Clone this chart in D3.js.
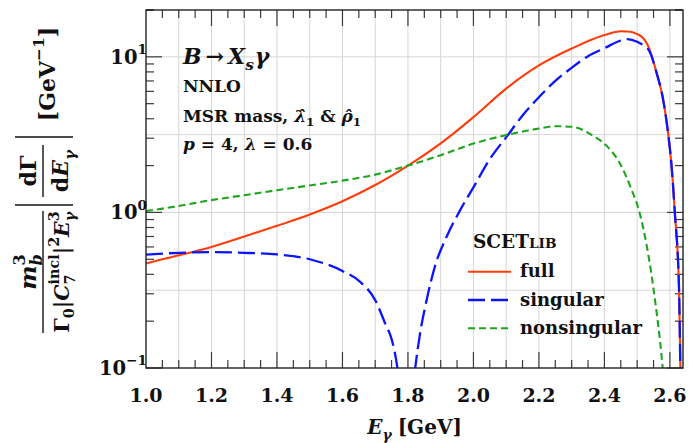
<!DOCTYPE html>
<html><head><meta charset="utf-8">
<script src="https://cdn.jsdelivr.net/npm/d3@7"></script>
<style>body{margin:0;background:#fff}svg{display:block}text{white-space:pre}</style>
</head><body>
<svg id="c" width="689" height="443"></svg>
<script>
// ---------- data ----------
const xDomain = [1.0, 2.64];
const yDomain = [0.1, 20];
const xTickLabels = [1.0, 1.2, 1.4, 1.6, 1.8, 2.0, 2.2, 2.4, 2.6];
const yTickExponents = [-1, 0, 1];
const seriesNames = ["full", "singular", "nonsingular"];

const full = [
  [1.00,0.47],[1.05,0.50],[1.10,0.53],[1.20,0.60],[1.30,0.70],[1.40,0.82],[1.50,0.97],
  [1.60,1.18],[1.70,1.50],[1.80,2.00],[1.90,2.78],[2.00,4.10],[2.10,6.25],[2.20,8.80],
  [2.30,11.3],[2.40,13.8],[2.45,14.6],[2.48,14.5],[2.50,14.0],[2.52,13.1],[2.537,11.3],
  [2.56,7.8],[2.578,5.5],[2.595,3.16],[2.605,2.0],[2.615,1.0],[2.628,0.316],[2.632,0.1],[2.634,0.06]
];
const singular = [
  [1.00,0.535],[1.10,0.55],[1.20,0.555],[1.30,0.55],[1.40,0.537],[1.50,0.50],[1.60,0.42],
  [1.654,0.358],[1.70,0.273],[1.73,0.194],[1.751,0.151],[1.768,0.0995],[1.78,0.06],
  [1.81,0.06],[1.822,0.0995],[1.837,0.167],[1.857,0.273],[1.882,0.447],[1.918,0.697],
  [1.959,1.03],[2.00,1.45],[2.05,2.2],[2.105,3.14],[2.15,4.2],[2.20,5.5],[2.25,7.0],
  [2.30,8.5],[2.35,10.1],[2.405,11.5],[2.44,12.5],[2.47,13.0],[2.50,12.5],[2.52,11.8],
  [2.537,10.9],[2.56,7.8],[2.578,5.5],[2.595,3.16],[2.605,2.0],[2.615,1.0],[2.628,0.316],[2.632,0.1],[2.634,0.06]
];
const nonsingular = [
  [1.00,1.02],[1.10,1.10],[1.20,1.20],[1.30,1.29],[1.40,1.39],[1.50,1.49],[1.60,1.60],
  [1.70,1.75],[1.80,2.00],[1.90,2.33],[2.00,2.77],[2.10,3.14],[2.20,3.46],[2.25,3.58],
  [2.30,3.55],[2.37,3.06],[2.405,2.70],[2.447,2.07],[2.48,1.45],[2.508,0.985],[2.549,0.333],
  [2.578,0.1],[2.59,0.05]
];

// ---------- layout ----------
const M = {left:146, right:683, top:10, bottom:368};
const FONT = "'DejaVu Serif', serif";
const svg = d3.select("#c");

const x = d3.scaleLinear().domain(xDomain).range([M.left, M.right]);
const y = d3.scaleLog().domain(yDomain).range([M.bottom, M.top]);

// math run helper
function run(parent, items, px, py, anchor, base) {
  const g = parent.append("g");
  let cur = 0, stackX = null, stackW = 0;
  items.forEach(it => {
    const sz = base * (it.s || 1);
    const t = g.append("text").text(it.t)
      .attr("font-family", FONT).attr("font-weight", "bold")
      .attr("font-style", it.i ? "italic" : "normal")
      .attr("font-size", sz).attr("y", (it.dy || 0) * base).attr("fill", "#111");
    const w = t.node().getComputedTextLength();
    if (it.stack) { t.attr("x", cur + (it.dx || 0)); stackX = cur; stackW = w; }
    else if (stackX !== null) { t.attr("x", stackX + (it.dx || 0)); cur = stackX + Math.max(w, stackW); stackX = null; }
    else { t.attr("x", cur + (it.dx || 0)); cur += w; }
    cur += (it.after || 0);
  });
  const off = anchor === "middle" ? cur / 2 : anchor === "end" ? cur : 0;
  g.attr("transform", `translate(${px - off},${py})`);
  return g;
}

// gridlines
const vGrid = d3.range(11, 27).map(d => d / 10);
const hGrid = [Math.pow(10, -0.5), 1, Math.pow(10, 0.5), 10];
const grid = svg.append("g").attr("stroke", "#d6d6d6").attr("stroke-width", 1);
grid.selectAll(".v").data(vGrid).join("line")
  .attr("x1", d => x(d)).attr("x2", d => x(d)).attr("y1", M.top).attr("y2", M.bottom);
grid.selectAll(".h").data(hGrid).join("line")
  .attr("x1", M.left).attr("x2", M.right).attr("y1", d => y(d)).attr("y2", d => y(d));

// ticks (all four sides, inward)
const xMinor = d3.range(21, 53).map(d => d * 0.05).filter(d => d < xDomain[1]);
const tk = svg.append("g").attr("stroke", "#3a3a3a").attr("stroke-width", 1.2);
xMinor.forEach(v => {
  const major = xTickLabels.some(t => Math.abs(t - v) < 1e-6);
  const L = major ? 16 : 8;
  tk.append("line").attr("x1", x(v)).attr("x2", x(v)).attr("y1", M.bottom).attr("y2", M.bottom - L);
  tk.append("line").attr("x1", x(v)).attr("x2", x(v)).attr("y1", M.top).attr("y2", M.top + L);
});
const yTicks = [];
yTickExponents.forEach(e => { for (let k = 1; k <= 9; k++) { const v = k * Math.pow(10, e); if (v <= yDomain[1] && v >= yDomain[0]) yTicks.push([v, k === 1]); } });
yTicks.push([20, false]);
yTicks.forEach(([v, major]) => {
  const L = major ? 16 : 8;
  tk.append("line").attr("y1", y(v)).attr("y2", y(v)).attr("x1", M.left).attr("x2", M.left + L);
  tk.append("line").attr("y1", y(v)).attr("y2", y(v)).attr("x1", M.right).attr("x2", M.right - L);
});

// curves
svg.append("clipPath").attr("id", "pc").append("rect")
  .attr("x", M.left).attr("y", M.top).attr("width", M.right - M.left).attr("height", M.bottom - M.top);
const line = d3.line().x(d => x(d[0])).y(d => y(d[1])).curve(d3.curveMonotoneX);
const styles = {
  full: {color: "#ff3c0a", w: 2.1, dash: null},
  singular: {color: "#0a14ff", w: 2.3, dash: "17,6"},
  nonsingular: {color: "#1ea51e", w: 2.1, dash: "7,4"}
};
const dataMap = {full, singular, nonsingular};
const cg = svg.append("g").attr("clip-path", "url(#pc)");
seriesNames.forEach(n => {
  cg.append("path").datum(dataMap[n]).attr("d", line).attr("fill", "none")
    .attr("stroke", styles[n].color).attr("stroke-width", styles[n].w)
    .attr("stroke-dasharray", styles[n].dash);
});

// frame
svg.append("rect").attr("x", M.left).attr("y", M.top).attr("width", M.right - M.left)
  .attr("height", M.bottom - M.top).attr("fill", "none").attr("stroke", "#222").attr("stroke-width", 1.4);

// x tick labels
xTickLabels.forEach(v => {
  svg.append("text").attr("x", x(v)).attr("y", 402).attr("text-anchor", "middle")
    .attr("font-family", FONT).attr("font-weight", "bold").attr("font-size", 19).attr("fill", "#111")
    .text(d3.format(".1f")(v));
});
// y tick labels
yTickExponents.forEach(e => {
  run(svg, [{t: "10"}, {t: e < 0 ? "\u2212" + (-e) : String(e), s: 0.7, dy: -0.5}], M.left + 1, y(Math.pow(10, e)) + 7, "end", 19.5);
});

// x axis title
run(svg, [{t: "E", i: 1}, {t: "\u03b3", i: 1, s: 0.7, dy: 0.3, after: 6}, {t: "[GeV]"}], (M.left + M.right) / 2, 434, "middle", 20);

// y axis title (rotated)
const yl = svg.append("g").attr("transform", "translate(43,0) rotate(-90)");
yl.append("line").attr("x1", -333).attr("x2", -211).attr("y1", 0).attr("y2", 0).attr("stroke", "#111").attr("stroke-width", 1.4);
run(yl, [{t: "m", i: 1}, {t: "3", s: 0.7, dy: -0.5, stack: 1}, {t: "b", i: 1, s: 0.7, dy: 0.25}], -272, -7, "middle", 23);
run(yl, [{t: "\u0393"}, {t: "0", s: 0.7, dy: 0.25}, {t: "|"}, {t: "C", i: 1},
  {t: "incl", s: 0.7, dy: -0.5, stack: 1}, {t: "7", s: 0.7, dy: 0.3}, {t: "|"}, {t: "2", s: 0.7, dy: -0.5},
  {t: "E", i: 1}, {t: "3", s: 0.7, dy: -0.5, stack: 1}, {t: "\u03b3", i: 1, s: 0.7, dy: 0.3}], -272, 26, "middle", 20.5);
// |dΓ/dE|
yl.append("line").attr("x1", -197).attr("x2", -145).attr("y1", 0).attr("y2", 0).attr("stroke", "#111").attr("stroke-width", 1.4);
[-205, -137].forEach(u => yl.append("line").attr("x1", u).attr("x2", u).attr("y1", -28).attr("y2", 30).attr("stroke", "#111").attr("stroke-width", 1.4));
run(yl, [{t: "d"}, {t: "\u0393"}], -171, -7, "middle", 22);
run(yl, [{t: "d"}, {t: "E", i: 1}, {t: "\u03b3", i: 1, s: 0.7, dy: 0.3}], -171, 25, "middle", 22);
run(yl, [{t: "[GeV"}, {t: "\u22121", s: 0.7, dy: -0.5}, {t: "]"}], -74, 12, "middle", 22);

// annotations
run(svg, [{t: "B", i: 1, after: 4}, {t: "\u2192", after: 4}, {t: "X", i: 1}, {t: "s", i: 1, s: 0.7, dy: 0.25, after: 1}, {t: "\u03b3", i: 1}], 183, 64, "start", 22);
run(svg, [{t: "NNLO"}], 183, 92, "start", 17);
run(svg, [{t: "MSR mass, "}, {t: "\u03bb\u0302", i: 1}, {t: "1", s: 0.7, dy: 0.25}, {t: " & "}, {t: "\u03c1\u0302", i: 1}, {t: "1", s: 0.7, dy: 0.25}], 183, 122, "start", 17);
run(svg, [{t: "p", i: 1}, {t: " = 4, "}, {t: "\u03bb", i: 1}, {t: " = 0.6"}], 183, 150, "start", 17);

// legend
run(svg, [{t: "SCET"}, {t: "LIB", s: 0.74}], 473, 248, "start", 18.5);
const legY = [271.7, 300, 328.3];
seriesNames.forEach((n, i) => {
  svg.append("line").attr("x1", 468).attr("x2", 511).attr("y1", legY[i]).attr("y2", legY[i])
    .attr("stroke", styles[n].color).attr("stroke-width", styles[n].w).attr("stroke-dasharray", styles[n].dash);
  svg.append("text").attr("x", 520).attr("y", legY[i] + 5.5).attr("font-family", FONT)
    .attr("font-weight", "bold").attr("font-size", 18).attr("fill", "#111").text(n);
});
</script>
</body></html>
